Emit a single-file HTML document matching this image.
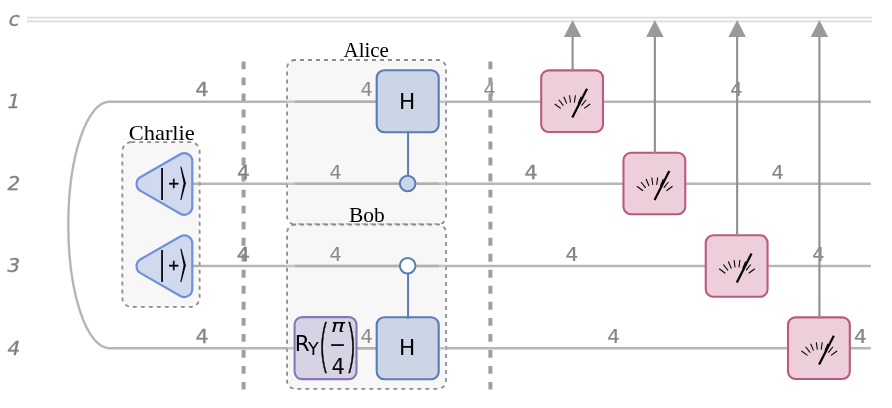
<!DOCTYPE html>
<html lang="en"><head><meta charset="utf-8"><title>Circuit</title>
<style>html,body{margin:0;padding:0;background:#fff;}svg{display:block;will-change:transform;}text{font-family:"DejaVu Sans","Liberation Sans",sans-serif;}.s{font-family:"Liberation Serif","DejaVu Serif",serif;}.lt{font-family:"DejaVu Sans Light","DejaVu Sans",sans-serif;}.mt{font-family:"DejaVu Math TeX Gyre","DejaVu Sans",sans-serif;}</style></head><body>
<svg width="892" height="408" viewBox="0 0 892 408" role="img" aria-label="Quantum circuit: Charlie prepares two plus states, Alice and Bob apply controlled Hadamard gates, four measurements">
<rect width="892" height="408" fill="#ffffff"/>
<g id="wires" fill="none">
<line x1="27" y1="17.6" x2="872" y2="17.6" stroke="#dcdcdc" stroke-width="1.8"/>
<line x1="27" y1="21.4" x2="872" y2="21.4" stroke="#dcdcdc" stroke-width="1.8"/>
<path d="M109.4,101.8 A41.1,123.22 0 0 0 109.4,348.25" stroke="#b6b6b6" stroke-width="2.4"/>
<line x1="108.9" y1="101.8" x2="870.8" y2="101.8" stroke="#b6b6b6" stroke-width="2.4"/>
<line x1="108.9" y1="348.25" x2="870.8" y2="348.25" stroke="#b6b6b6" stroke-width="2.4"/>
<line x1="193" y1="183.8" x2="870.8" y2="183.8" stroke="#b6b6b6" stroke-width="2.4"/>
<line x1="193" y1="266.0" x2="870.8" y2="266.0" stroke="#b6b6b6" stroke-width="2.4"/>
</g>
<g id="barriers">
<text x="489.7" y="96" font-size="19.2" text-anchor="middle" fill="#8a8a8a">4</text>
<line x1="243.57" y1="61.4" x2="243.57" y2="389.6" stroke="#9e9e9e" stroke-width="4" stroke-dasharray="7.9 8.13"/>
<line x1="490.38" y1="61.4" x2="490.38" y2="389.6" stroke="#9e9e9e" stroke-width="4" stroke-dasharray="7.9 8.13"/>
</g>
<g id="groups">
<rect x="122.3" y="142.2" width="77.30" height="164.70" rx="9" ry="9" fill="#f7f7f7" stroke="#8d8d8d" stroke-width="1.8" stroke-dasharray="4 4" stroke-dashoffset="0.1"/>
<rect x="287.07" y="60.0" width="158.93" height="164.50" rx="8" ry="8" fill="#f7f7f7" stroke="#8d8d8d" stroke-width="1.8" stroke-dasharray="4 4" stroke-dashoffset="3.07"/>
<rect x="287.07" y="224.5" width="158.93" height="164.40" rx="8" ry="8" fill="#f7f7f7" stroke="#8d8d8d" stroke-width="1.8" stroke-dasharray="4 4" stroke-dashoffset="3.07"/>
</g>
<g id="wires-in" fill="none">
<line x1="287.2" y1="101.8" x2="446.2" y2="101.8" stroke="#c4c4c4" stroke-width="2.4"/>
<line x1="294.7" y1="101.8" x2="439" y2="101.8" stroke="#b0b0b0" stroke-width="2.4"/>
<line x1="287.2" y1="183.8" x2="446.2" y2="183.8" stroke="#c4c4c4" stroke-width="2.4"/>
<line x1="294.7" y1="183.8" x2="439" y2="183.8" stroke="#b0b0b0" stroke-width="2.4"/>
<line x1="287.2" y1="266.0" x2="446.2" y2="266.0" stroke="#c4c4c4" stroke-width="2.4"/>
<line x1="294.7" y1="266.0" x2="439" y2="266.0" stroke="#b0b0b0" stroke-width="2.4"/>
<line x1="287.2" y1="348.25" x2="446.2" y2="348.25" stroke="#c4c4c4" stroke-width="2.4"/>
<line x1="294.7" y1="348.25" x2="439" y2="348.25" stroke="#b0b0b0" stroke-width="2.4"/>
<line x1="193" y1="183.8" x2="199.7" y2="183.8" stroke="#b0b0b0" stroke-width="2.4"/>
<line x1="193" y1="266.0" x2="199.7" y2="266.0" stroke="#b0b0b0" stroke-width="2.4"/>
</g>
<g id="group-labels" class="s" fill="#000000" font-size="21.5" text-anchor="middle">
<text class="s" x="161.8" y="140" textLength="66" lengthAdjust="spacingAndGlyphs">Charlie</text>
<text class="s" x="366.2" y="57" textLength="45.3" lengthAdjust="spacingAndGlyphs">Alice</text>
<text class="s" x="366.9" y="222" textLength="35.8" lengthAdjust="spacingAndGlyphs">Bob</text>
</g>
<g id="row-labels" font-size="20" font-style="italic" fill="#808080" stroke="#808080" stroke-width="0.35">
<text x="8.8" y="26.0">c</text>
<text x="7.5" y="108.0">1</text>
<text x="7.5" y="190.0">2</text>
<text x="7.5" y="272.0">3</text>
<text x="7.5" y="355.0">4</text>
</g>
<g id="wire-labels">
<text transform="translate(202.0,96) scale(1.120,1)" font-size="18.70" text-anchor="middle" fill="#858585" stroke="#858585" stroke-width="0.38">4</text>
<text transform="translate(243.45,179) scale(1.084,1)" font-size="18.85" text-anchor="middle" fill="#858585" stroke="#858585" stroke-width="0.27">4</text>
<text transform="translate(243.45,261) scale(1.120,1)" font-size="18.70" text-anchor="middle" fill="#858585" stroke="#858585" stroke-width="0.38">4</text>
<text transform="translate(202.05,343) scale(1.096,1)" font-size="18.80" text-anchor="middle" fill="#858585" stroke="#858585" stroke-width="0.30">4</text>
<text transform="translate(531.0,179) scale(1.096,1)" font-size="18.80" text-anchor="middle" fill="#858585" stroke="#858585" stroke-width="0.30">4</text>
<text transform="translate(572.0,261) scale(1.060,1)" font-size="18.95" text-anchor="middle" fill="#858585" stroke="#858585" stroke-width="0.19">4</text>
<text transform="translate(613.5,343) scale(1.048,1)" font-size="19.00" text-anchor="middle" fill="#858585" stroke="#858585" stroke-width="0.15">4</text>
<text transform="translate(736.5,96) scale(1.018,1)" font-size="19.12" text-anchor="middle" fill="#858585" stroke="#858585" stroke-width="0.06">4</text>
<text transform="translate(777.6,179) scale(1.018,1)" font-size="19.12" text-anchor="middle" fill="#858585" stroke="#858585" stroke-width="0.06">4</text>
<text transform="translate(818.5,261) scale(1.018,1)" font-size="19.12" text-anchor="middle" fill="#858585" stroke="#858585" stroke-width="0.06">4</text>
<text transform="translate(860.35,343) scale(1.072,1)" font-size="18.90" text-anchor="middle" fill="#858585" stroke="#858585" stroke-width="0.23">4</text>
<text x="366.5" y="96" font-size="19.2" text-anchor="middle" fill="#8a8a8a">4</text>
<text x="335.7" y="179" font-size="19.2" text-anchor="middle" fill="#8a8a8a">4</text>
<text x="335.7" y="261" font-size="19.2" text-anchor="middle" fill="#8a8a8a">4</text>
<text x="366.5" y="343" font-size="19.2" text-anchor="middle" fill="#8a8a8a">4</text>
</g>
<g id="arrows">
<line x1="572.60" y1="36" x2="572.60" y2="71.8" stroke="#919191" stroke-width="2.15"/>
<path d="M572.60,20.0 L581.30,37.1 L563.90,37.1 Z" fill="#9a9a9a"/>
<line x1="654.87" y1="36" x2="654.87" y2="153.8" stroke="#919191" stroke-width="2.15"/>
<path d="M654.87,20.0 L663.57,37.1 L646.17,37.1 Z" fill="#9a9a9a"/>
<line x1="737.14" y1="36" x2="737.14" y2="236.0" stroke="#919191" stroke-width="2.15"/>
<path d="M737.14,20.0 L745.84,37.1 L728.44,37.1 Z" fill="#9a9a9a"/>
<line x1="819.41" y1="36" x2="819.41" y2="318.25" stroke="#919191" stroke-width="2.15"/>
<path d="M819.41,20.0 L828.11,37.1 L810.71,37.1 Z" fill="#9a9a9a"/>
</g>
<g id="controls">
<line x1="408.06" y1="131.8" x2="408.06" y2="183.8" stroke="#587db3" stroke-width="2"/>
<line x1="408.06" y1="266.0" x2="408.06" y2="318.25" stroke="#587db3" stroke-width="2"/>
<circle cx="407.66" cy="183.5" r="7.8" fill="#ccd5e6" stroke="#587db3" stroke-width="2"/>
<circle cx="407.66" cy="265.7" r="7.8" fill="#ffffff" stroke="#587db3" stroke-width="2"/>
</g>
<g id="gates">
<rect x="376.70" y="70.30" width="62.00" height="62.00" rx="7.5" ry="7.5" fill="#ccd5e6" stroke="#587db3" stroke-width="2.1"/>
<text x="407.2" y="109" font-size="21.6" text-anchor="middle" fill="#000">H</text>
<rect x="376.70" y="317.30" width="62.00" height="62.00" rx="7.5" ry="7.5" fill="#ccd5e6" stroke="#587db3" stroke-width="2.1"/>
<text x="407.2" y="355" font-size="21.6" text-anchor="middle" fill="#000">H</text>
<line x1="408.06" y1="131.3" x2="408.06" y2="133.5" stroke="#587db3" stroke-width="2"/>
<line x1="408.06" y1="315.8" x2="408.06" y2="318.7" stroke="#587db3" stroke-width="2"/>
<rect x="294.60" y="317.10" width="61.90" height="62.00" rx="7.5" ry="7.5" fill="#d7d3e5" stroke="#8676b6" stroke-width="2.1"/>
<text x="294.7" y="350.8" font-size="21.5" fill="#000">R</text>
<text x="308.1" y="354.9" font-size="17.6" fill="#000">Y</text>
<text font-size="57.6" class="lt" fill="#000" stroke="#000" stroke-width="0.75" transform="translate(318.26,364.80) scale(0.5,1)">(</text>
<text font-size="57.6" class="lt" fill="#000" stroke="#000" stroke-width="0.75" transform="translate(345.53,364.80) scale(0.5,1)">)</text>
<text font-size="18.2" font-style="italic" text-anchor="middle" fill="#000" transform="translate(337.9,332.0) scale(1.28,1)">π</text>
<line x1="331.1" y1="345.05" x2="343.9" y2="345.05" stroke="#000" stroke-width="1.7"/>
<text x="338.1" y="373.5" font-size="21" text-anchor="middle" fill="#000">4</text>
<path d="M180.32,154.22 A8.0,8.0 0 0 1 192.30,161.16 L192.30,206.74 A8.0,8.0 0 0 1 180.32,213.68 L140.60,190.89 A8.0,8.0 0 0 1 140.60,177.01 Z" fill="#d1d9ef" stroke="#7090da" stroke-width="2.2"/>
<text transform="translate(162.1,191.60) scale(0.66,1)" font-size="32" text-anchor="middle" fill="#000">|</text>
<text x="173.6" y="188" font-size="14.2" text-anchor="middle" fill="#000" stroke="#000" stroke-width="0.45">+</text>
<text transform="translate(183.3,193.60) scale(0.5,1)" font-size="39.4" class="mt" text-anchor="middle" fill="#000">⟩</text>
<path d="M180.32,236.47 A8.0,8.0 0 0 1 192.30,243.41 L192.30,288.99 A8.0,8.0 0 0 1 180.32,295.93 L140.60,273.14 A8.0,8.0 0 0 1 140.60,259.26 Z" fill="#d1d9ef" stroke="#7090da" stroke-width="2.2"/>
<text transform="translate(162.1,273.80) scale(0.66,1)" font-size="32" text-anchor="middle" fill="#000">|</text>
<text x="173.6" y="270" font-size="14.2" text-anchor="middle" fill="#000" stroke="#000" stroke-width="0.45">+</text>
<text transform="translate(183.3,275.80) scale(0.5,1)" font-size="39.4" class="mt" text-anchor="middle" fill="#000">⟩</text>
<rect x="541.20" y="70.40" width="61.80" height="61.60" rx="7.5" ry="7.5" fill="#eccfdb" stroke="#bb5a81" stroke-width="2.1"/>
<line x1="572.60" y1="68.3" x2="572.60" y2="71.5" stroke="#919191" stroke-width="2.15"/>
<line x1="560.71" y1="108.43" x2="554.67" y2="103.97" stroke="#000" stroke-width="1.05"/>
<line x1="563.41" y1="105.63" x2="558.77" y2="99.74" stroke="#000" stroke-width="1.05"/>
<line x1="566.76" y1="103.66" x2="563.83" y2="96.75" stroke="#000" stroke-width="1.05"/>
<line x1="570.51" y1="102.63" x2="569.51" y2="95.20" stroke="#000" stroke-width="1.05"/>
<line x1="574.39" y1="102.63" x2="575.39" y2="95.20" stroke="#000" stroke-width="1.05"/>
<line x1="578.14" y1="103.66" x2="581.07" y2="96.75" stroke="#000" stroke-width="1.05"/>
<line x1="581.49" y1="105.63" x2="586.13" y2="99.74" stroke="#000" stroke-width="1.05"/>
<line x1="584.19" y1="108.43" x2="590.23" y2="103.97" stroke="#000" stroke-width="1.05"/>
<line x1="572.30" y1="117.60" x2="587.00" y2="88.70" stroke="#000" stroke-width="2.2"/>
<rect x="623.47" y="152.70" width="61.80" height="61.60" rx="7.5" ry="7.5" fill="#eccfdb" stroke="#bb5a81" stroke-width="2.1"/>
<line x1="654.87" y1="150.6" x2="654.87" y2="153.79999999999998" stroke="#919191" stroke-width="2.15"/>
<line x1="642.98" y1="190.73" x2="636.94" y2="186.27" stroke="#000" stroke-width="1.05"/>
<line x1="645.68" y1="187.93" x2="641.04" y2="182.04" stroke="#000" stroke-width="1.05"/>
<line x1="649.03" y1="185.96" x2="646.10" y2="179.05" stroke="#000" stroke-width="1.05"/>
<line x1="652.78" y1="184.93" x2="651.78" y2="177.50" stroke="#000" stroke-width="1.05"/>
<line x1="656.66" y1="184.93" x2="657.66" y2="177.50" stroke="#000" stroke-width="1.05"/>
<line x1="660.41" y1="185.96" x2="663.34" y2="179.05" stroke="#000" stroke-width="1.05"/>
<line x1="663.76" y1="187.93" x2="668.40" y2="182.04" stroke="#000" stroke-width="1.05"/>
<line x1="666.46" y1="190.73" x2="672.50" y2="186.27" stroke="#000" stroke-width="1.05"/>
<line x1="654.57" y1="199.90" x2="669.27" y2="171.00" stroke="#000" stroke-width="2.2"/>
<rect x="705.74" y="235.20" width="61.80" height="61.60" rx="7.5" ry="7.5" fill="#eccfdb" stroke="#bb5a81" stroke-width="2.1"/>
<line x1="737.14" y1="233.10000000000002" x2="737.14" y2="236.3" stroke="#919191" stroke-width="2.15"/>
<line x1="725.25" y1="273.23" x2="719.21" y2="268.77" stroke="#000" stroke-width="1.05"/>
<line x1="727.95" y1="270.43" x2="723.31" y2="264.54" stroke="#000" stroke-width="1.05"/>
<line x1="731.30" y1="268.46" x2="728.37" y2="261.55" stroke="#000" stroke-width="1.05"/>
<line x1="735.05" y1="267.43" x2="734.05" y2="260.00" stroke="#000" stroke-width="1.05"/>
<line x1="738.93" y1="267.43" x2="739.93" y2="260.00" stroke="#000" stroke-width="1.05"/>
<line x1="742.68" y1="268.46" x2="745.61" y2="261.55" stroke="#000" stroke-width="1.05"/>
<line x1="746.03" y1="270.43" x2="750.67" y2="264.54" stroke="#000" stroke-width="1.05"/>
<line x1="748.73" y1="273.23" x2="754.77" y2="268.77" stroke="#000" stroke-width="1.05"/>
<line x1="736.84" y1="282.40" x2="751.54" y2="253.50" stroke="#000" stroke-width="2.2"/>
<rect x="788.01" y="317.40" width="61.80" height="61.60" rx="7.5" ry="7.5" fill="#eccfdb" stroke="#bb5a81" stroke-width="2.1"/>
<line x1="819.41" y1="315.3" x2="819.41" y2="318.5" stroke="#919191" stroke-width="2.15"/>
<line x1="807.52" y1="355.43" x2="801.48" y2="350.97" stroke="#000" stroke-width="1.05"/>
<line x1="810.22" y1="352.63" x2="805.58" y2="346.74" stroke="#000" stroke-width="1.05"/>
<line x1="813.57" y1="350.66" x2="810.64" y2="343.75" stroke="#000" stroke-width="1.05"/>
<line x1="817.32" y1="349.63" x2="816.32" y2="342.20" stroke="#000" stroke-width="1.05"/>
<line x1="821.20" y1="349.63" x2="822.20" y2="342.20" stroke="#000" stroke-width="1.05"/>
<line x1="824.95" y1="350.66" x2="827.88" y2="343.75" stroke="#000" stroke-width="1.05"/>
<line x1="828.30" y1="352.63" x2="832.94" y2="346.74" stroke="#000" stroke-width="1.05"/>
<line x1="831.00" y1="355.43" x2="837.04" y2="350.97" stroke="#000" stroke-width="1.05"/>
<line x1="819.11" y1="364.60" x2="833.81" y2="335.70" stroke="#000" stroke-width="2.2"/>
</g>
</svg></body></html>
